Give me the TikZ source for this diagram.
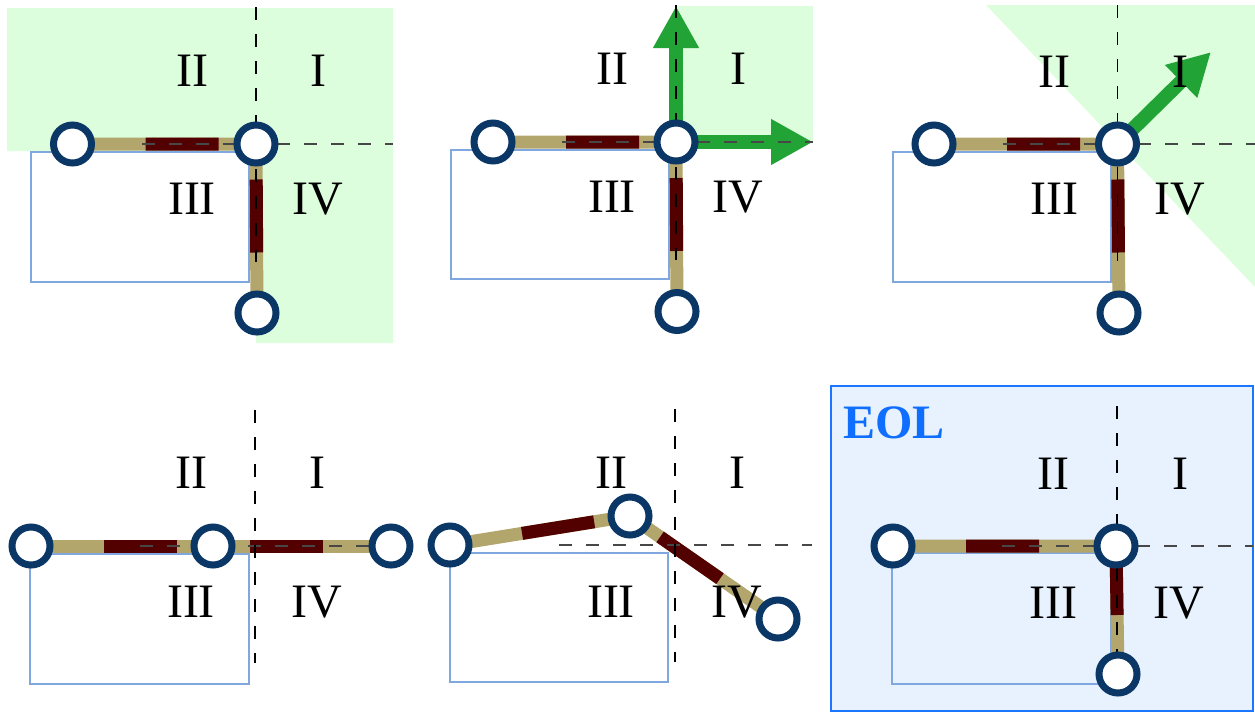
\documentclass[tikz,border=0pt]{standalone}
\usepackage{fontspec}
\setmainfont{Liberation Serif}
\usetikzlibrary{arrows.meta}
\definecolor{tanc}{HTML}{B3A66D}
\definecolor{redc}{HTML}{520000}
\definecolor{navy}{HTML}{0B3766}
\definecolor{rectc}{HTML}{80A8DE}
\definecolor{greenfill}{HTML}{DCFEDC}
\definecolor{arrowc}{HTML}{21A336}
\definecolor{eolfill}{HTML}{E8F2FE}
\definecolor{eolline}{HTML}{1A75FF}
\definecolor{eoltext}{HTML}{106EFF}
\tikzset{
  vertex/.style={circle, draw=navy, fill=white, line width=7pt, minimum size=38pt, inner sep=0pt},
  tanline/.style={draw=tanc, line width=13pt},
  redline/.style={draw=redc, line width=13pt, dash pattern=on 73pt off 73pt, dash phase=73pt},
  hax/.style={draw=black!72, line width=1.4pt, dash pattern=on 13pt off 14pt},
  vax/.style={draw=black, line width=1.3pt, dash pattern=on 13pt off 14pt},
  wall/.style={draw=rectc, line width=2pt},
  greenzone/.style={fill=greenfill, draw=none},
  quad/.style={font=\fontsize{48}{50}\selectfont, inner sep=0pt, text=black},
  garrow/.style={draw=arrowc, line width=14pt, -{Triangle[length=42pt,width=43pt]}},
  eolbox/.style={fill=eolfill, draw=eolline, line width=2pt},
  eoltitle/.style={font=\fontsize{48}{50}\selectfont\bfseries, text=eoltext, inner sep=0pt}
}
\begin{document}
\begin{tikzpicture}[x=1pt,y=-1pt]
\useasboundingbox (0,0) rectangle (1255,713);
% coordinates of vertices
\coordinate (a1) at (72.5,144); \coordinate (b1) at (256,144); \coordinate (c1) at (257,313);
\coordinate (a2) at (493,142); \coordinate (b2) at (676,142); \coordinate (c2) at (677,311.5);
\coordinate (a3) at (934,144); \coordinate (b3) at (1117.5,144); \coordinate (c3) at (1119,313);
\coordinate (a4) at (31,546); \coordinate (b4) at (213,546); \coordinate (c4) at (391,546);
\coordinate (a5) at (450,545); \coordinate (b5) at (630,516); \coordinate (c5) at (778,619);
\coordinate (a6) at (893,546); \coordinate (b6) at (1116,546); \coordinate (c6) at (1118,674);
\coordinate (u2) at (676,6); \coordinate (r2) at (813,142);
\coordinate (d3) at (1211,52);
% green zones and EOL box
\path[greenzone] (7,8) -- (393,8) -- (393,343) -- (256,343) -- (256,151) -- (7,151) -- cycle;
\path[greenzone] (677,6) rectangle (813,142);
\path[greenzone] (986,5) -- (1255,5) -- (1255,287) -- cycle;
\path[eolbox] (831,386) rectangle (1253,711);
\node[eoltitle] (eol) at (894,423) {EOL};
% obstacles
\draw[wall] (31,152) rectangle (249,282);
\draw[wall] (451,150) rectangle (669,279);
\draw[wall] (893,152) rectangle (1111,282);
\draw[wall] (30,554) rectangle (249,684);
\draw[wall] (450,553) rectangle (668,682);
\draw[wall] (892,553) rectangle (1111,684);
% edges
\foreach \k in {1,...,6}{
  \draw[tanline] (a\k) -- (b\k) -- (c\k);
  \draw[redline] (a\k) -- (b\k) -- (c\k);
}
% arrows
\draw[garrow] (b2) -- (u2);
\draw[garrow] (b2) -- (r2);
\draw[garrow] (b3) -- (d3);
% axes
\draw[hax] (142,144) -- (393,144);  \draw[vax] (256,7) -- (256,262);
\draw[hax] (562,142) -- (813,142);  \draw[vax] (676,5) -- (676,260);
\draw[hax] (1003,144) -- (1255,144); \draw[vax] (1117.5,5) -- (1117.5,262);
\draw[hax] (140,546) -- (393,546);  \draw[vax] (255,410) -- (255,663);
\draw[hax] (559,545) -- (812,545);  \draw[vax] (675,409) -- (675,662);
\draw[hax] (1002,546) -- (1253,546); \draw[vax] (1117,406) -- (1117,661);
% vertices
\foreach \k in {1,...,6}{
  \node[vertex] (n-a\k) at (a\k) {};
  \node[vertex] (n-b\k) at (b\k) {};
  \node[vertex] (n-c\k) at (c\k) {};
}
% quadrant labels
\node[quad] (q1-2) at (192,71) {II};  \node[quad] (q1-1) at (318,71) {I};
\node[quad] (q1-3) at (192,199) {III}; \node[quad] (q1-4) at (318,199) {IV};
\node[quad] (q2-2) at (612,69) {II};  \node[quad] (q2-1) at (738,69) {I};
\node[quad] (q2-3) at (612,197) {III}; \node[quad] (q2-4) at (738,197) {IV};
\node[quad] (q3-2) at (1054,72) {II}; \node[quad] (q3-1) at (1180,72) {I};
\node[quad] (q3-3) at (1054,199) {III}; \node[quad] (q3-4) at (1180,199) {IV};
\node[quad] (q4-2) at (191,473) {II};  \node[quad] (q4-1) at (317,473) {I};
\node[quad] (q4-3) at (191,602) {III}; \node[quad] (q4-4) at (317,602) {IV};
\node[quad] (q5-2) at (611,473) {II};  \node[quad] (q5-1) at (737,473) {I};
\node[quad] (q5-3) at (611,602) {III}; \node[quad] (q5-4) at (737,602) {IV};
\node[quad] (q6-2) at (1053,474) {II}; \node[quad] (q6-1) at (1180,474) {I};
\node[quad] (q6-3) at (1053,603) {III}; \node[quad] (q6-4) at (1179,603) {IV};
\end{tikzpicture}
\end{document}
